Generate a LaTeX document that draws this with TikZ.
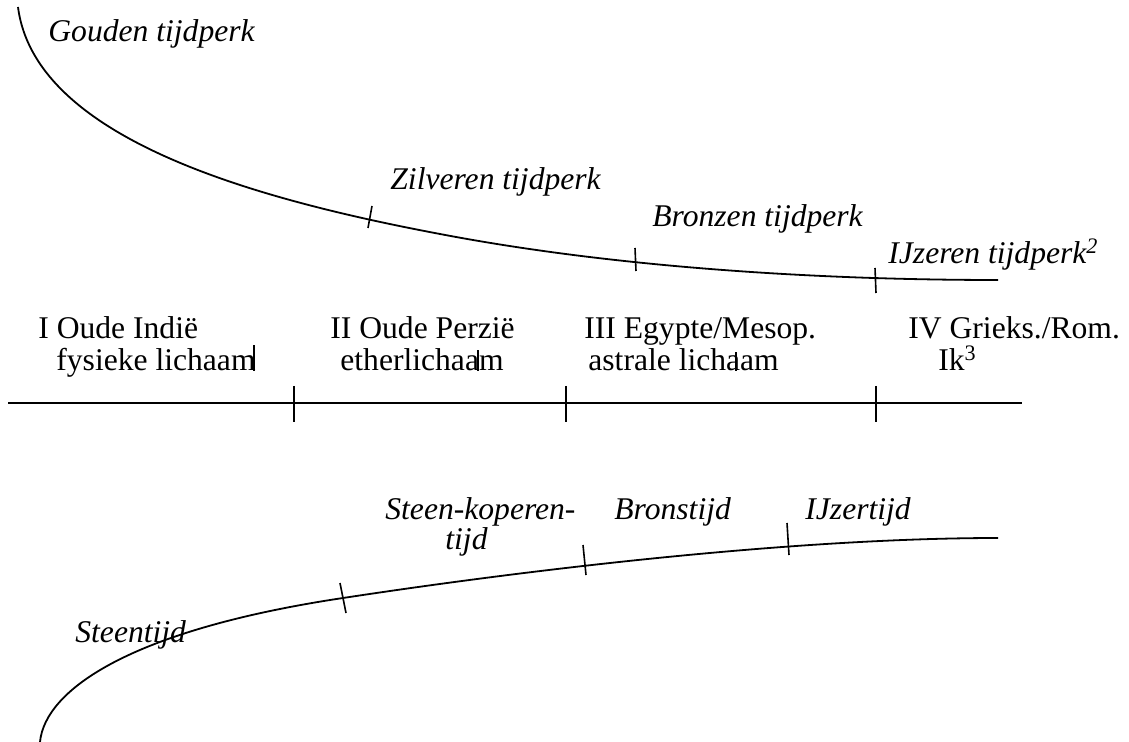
\documentclass[tikz,border=0pt]{standalone}
\usepackage{fontspec}
\setmainfont{Liberation Serif}
\usetikzlibrary{positioning}

\begin{document}
\begin{tikzpicture}[x=0.5pt,y=-0.5pt,
    txt/.style={inner sep=0pt,anchor=base west,font=\fontsize{15.8}{18}\selectfont},
    era/.style={txt,font=\fontsize{15.8}{18}\selectfont\itshape},
    tijdlijn/.style={line width=0.9pt},
    streep/.style={line width=0.8pt}]
    \useasboundingbox (0,0) rectangle (1129,742);

    % bovenste lijn: tijdperken
    \draw[tijdlijn] (18,7) .. controls (35,140) and (260,200) .. (440,234)
        .. controls (602,265) and (800,280) .. (998,280);
    \draw[streep] (372,206) -- (368,228);
    \draw[streep] (635,248) -- (636,271);
    \draw[streep] (875,268) -- (876,293);

    \node[era] (gouden) at (48,42) {Gouden tijdperk};
    \node[era] (zilver) at (390,190) {Zilveren tijdperk};
    \node[era] (brons) at (652,227) {Bronzen tijdperk};
    \node[era] (ijzer) at (888,264) {IJzeren tijdperk\textsuperscript{2}};

    % middelste lijn: cultuurperioden
    \draw[tijdlijn] (8,403) -- (1022,403);
    \foreach \x in {294,566,876}
        \draw[streep] (\x,386) -- (\x,422);

    \node[txt] (indie) at (38,339) {I Oude Indië};
    \node[txt] (fysiek) at (56,371) {fysieke lichaam};
    \node[txt] (perzie) at (330,339) {II Oude Perzië};
    \node[txt] (ether) at (340,371) {etherlichaam};
    \node[txt] (egypte) at (584,339) {III Egypte/Mesop.};
    \node[txt] (astraal) at (588,371) {astrale lichaam};
    \node[txt] (grieks) at (908,339) {IV Grieks./Rom.};
    \node[txt] (ik) at (938,371) {Ik\textsuperscript{3}};

    \draw[streep] ([xshift=-1pt]fysiek.base east) -- ++(0,-26);
    \draw[streep] ([xshift=-13pt]ether.base east) -- ++(0,-21);
    \draw[streep] ([xshift=-21.5pt]astraal.base east) -- ++(0,-19);

    % onderste lijn: archeologische tijden
    \draw[tijdlijn] (40,742) .. controls (45,690) and (130,630) .. (343,598)
        .. controls (500,574) and (780,538) .. (998,538);
    \draw[streep] (340,583) -- (346,613);
    \draw[streep] (583,545) -- (586,575);
    \draw[streep] (787,523) -- (789,555);

    \node[era] (steenkoper) at (385,520) {Steen-koperen-};
    \node[era] (koptijd) at (445,550) {tijd};
    \node[era] (bronstijd) at (614,520) {Bronstijd};
    \node[era] (ijzertijd) at (805,520) {IJzertijd};
    \node[era] (steentijd) at (75,642) {Steentijd};
\end{tikzpicture}
\end{document}
